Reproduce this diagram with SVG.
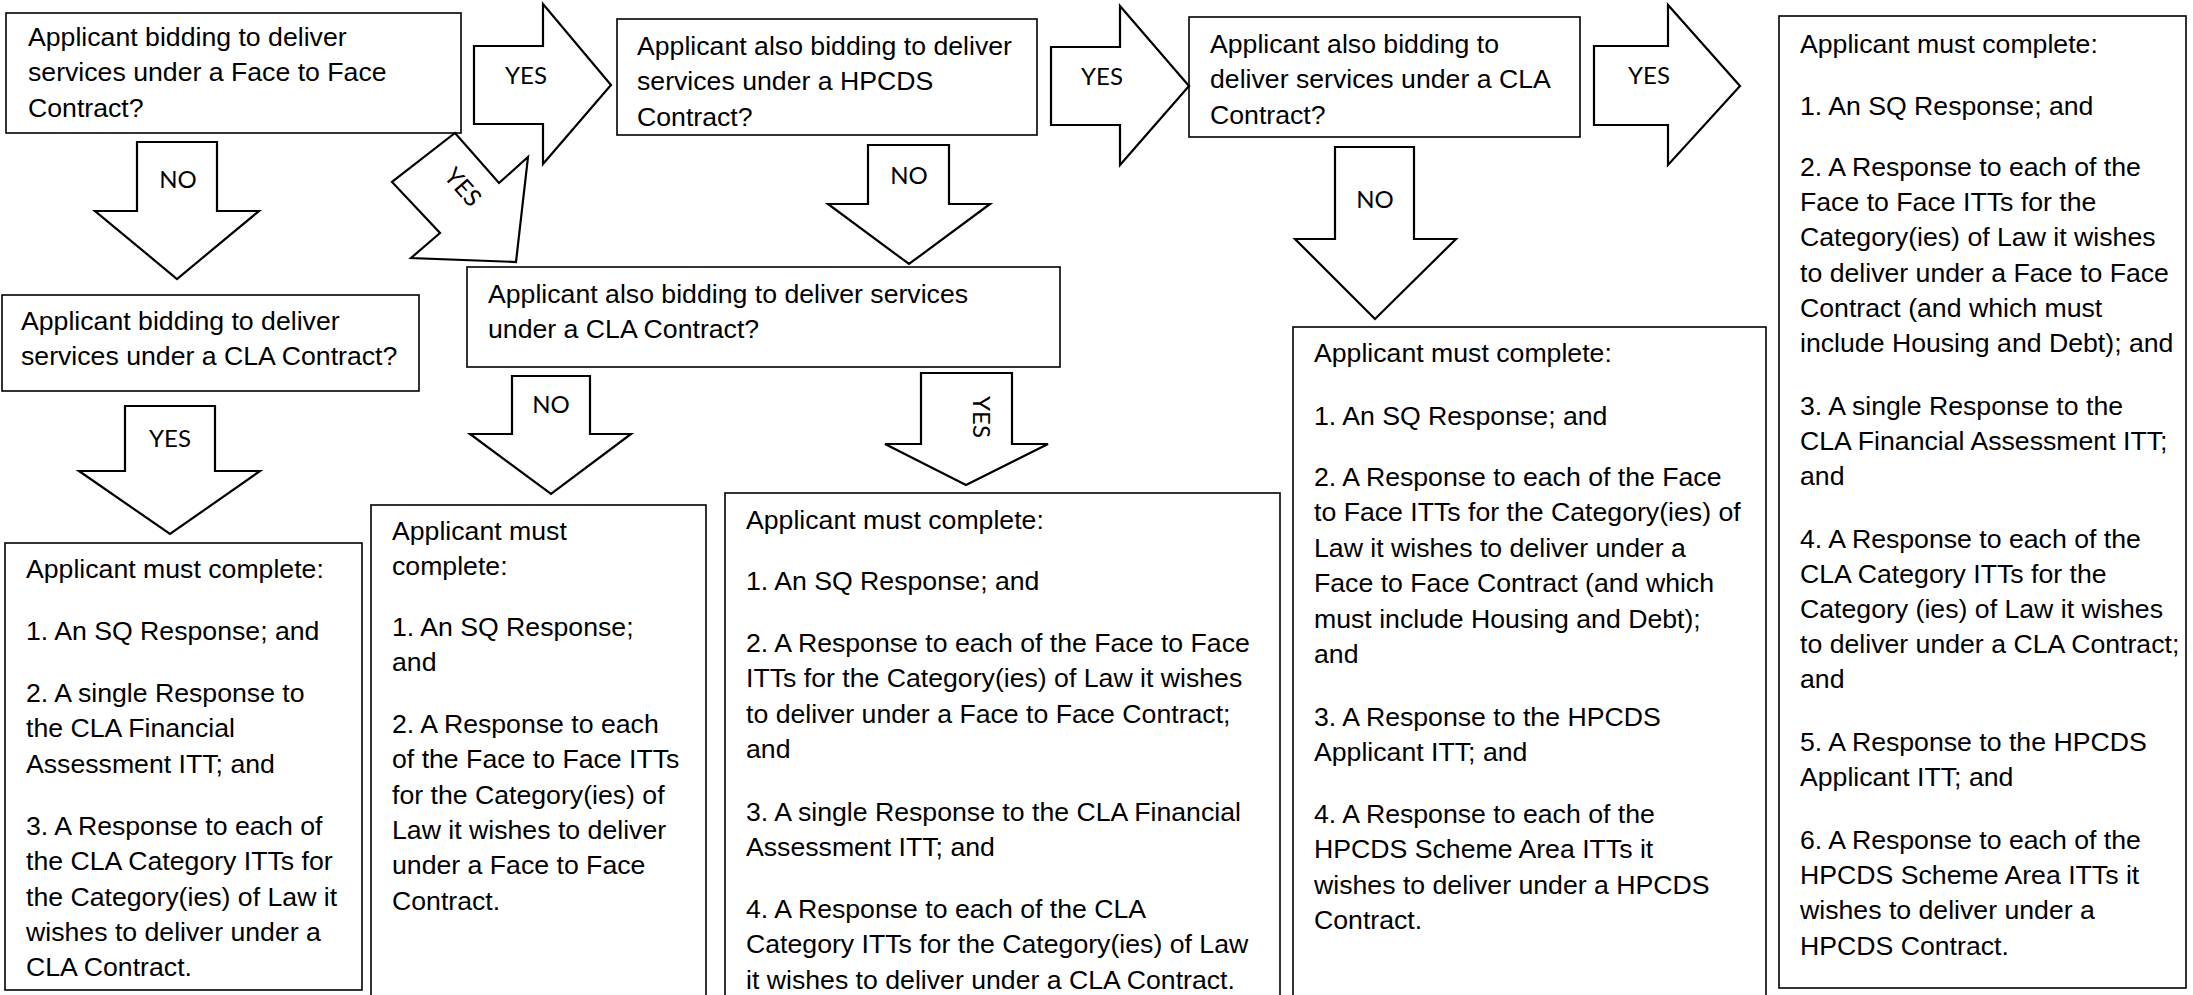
<svg xmlns="http://www.w3.org/2000/svg" width="2193" height="995" viewBox="0 0 2193 995">
<style>
.box{fill:#fff;stroke:#000;stroke-width:1.6}
.arr{fill:#fff;stroke:#000;stroke-width:2.2;stroke-linejoin:miter}
.t{font-family:"Liberation Sans",Arial,sans-serif;font-size:26.67px;fill:#000}
.lbl{font-family:Lato,"Open Sans",sans-serif;font-size:24px;fill:#000;text-anchor:middle}
</style>
<rect width="2193" height="995" fill="#fff"/>

<g id="q1">
<rect class="box" x="6" y="13" width="455" height="120"/>
<text class="t"><tspan x="28" y="46">Applicant bidding to deliver</tspan><tspan x="28" y="81.3">services under a Face to Face</tspan><tspan x="28" y="116.6">Contract?</tspan></text>
</g>

<g id="q2">
<rect class="box" x="617" y="19" width="420" height="116"/>
<text class="t"><tspan x="637" y="55">Applicant also bidding to deliver</tspan><tspan x="637" y="90.3">services under a HPCDS</tspan><tspan x="637" y="125.6">Contract?</tspan></text>
</g>

<g id="q3">
<rect class="box" x="1189" y="17" width="391" height="120"/>
<text class="t"><tspan x="1210" y="53">Applicant also bidding to</tspan><tspan x="1210" y="88.3">deliver services under a CLA</tspan><tspan x="1210" y="123.6">Contract?</tspan></text>
</g>

<g id="q4">
<rect class="box" x="467" y="267" width="593" height="100"/>
<text class="t"><tspan x="488" y="303">Applicant also bidding to deliver services</tspan><tspan x="488" y="338.3">under a CLA Contract?</tspan></text>
</g>

<g id="q5">
<rect class="box" x="2" y="295" width="417" height="96"/>
<text class="t"><tspan x="21" y="330">Applicant bidding to deliver</tspan><tspan x="21" y="365.3">services under a CLA Contract?</tspan></text>
</g>

<g id="r_cla_only">
<rect class="box" x="5" y="543" width="357" height="447"/>
<text class="t"><tspan x="26" y="578">Applicant must complete:</tspan><tspan x="26" y="640">1. An SQ Response; and</tspan><tspan x="26" y="702">2. A single Response to</tspan><tspan x="26" y="737.3">the CLA Financial</tspan><tspan x="26" y="772.6">Assessment ITT; and</tspan><tspan x="26" y="835">3. A Response to each of</tspan><tspan x="26" y="870.3">the CLA Category ITTs for</tspan><tspan x="26" y="905.6">the Category(ies) of Law it</tspan><tspan x="26" y="940.9">wishes to deliver under a</tspan><tspan x="26" y="976.2">CLA Contract.</tspan></text>
</g>

<g id="r_f2f_only">
<rect class="box" x="371" y="505" width="335" height="510"/>
<text class="t"><tspan x="392" y="539.5">Applicant must</tspan><tspan x="392" y="574.8">complete:</tspan><tspan x="392" y="636">1. An SQ Response;</tspan><tspan x="392" y="671.3">and</tspan><tspan x="392" y="733">2. A Response to each</tspan><tspan x="392" y="768.3">of the Face to Face ITTs</tspan><tspan x="392" y="803.6">for the Category(ies) of</tspan><tspan x="392" y="838.9">Law it wishes to deliver</tspan><tspan x="392" y="874.2">under a Face to Face</tspan><tspan x="392" y="909.5">Contract.</tspan></text>
</g>

<g id="r_f2f_cla">
<rect class="box" x="725" y="493" width="555" height="520"/>
<text class="t"><tspan x="746" y="528.5">Applicant must complete:</tspan><tspan x="746" y="590">1. An SQ Response; and</tspan><tspan x="746" y="652">2. A Response to each of the Face to Face</tspan><tspan x="746" y="687.3">ITTs for the Category(ies) of Law it wishes</tspan><tspan x="746" y="722.6">to deliver under a Face to Face Contract;</tspan><tspan x="746" y="757.9">and</tspan><tspan x="746" y="820.5">3. A single Response to the CLA Financial</tspan><tspan x="746" y="855.8">Assessment ITT; and</tspan><tspan x="746" y="918">4. A Response to each of the CLA</tspan><tspan x="746" y="953.3">Category ITTs for the Category(ies) of Law</tspan><tspan x="746" y="988.6">it wishes to deliver under a CLA Contract.</tspan></text>
</g>

<g id="r_f2f_hpcds">
<rect class="box" x="1293" y="327" width="473" height="690"/>
<text class="t"><tspan x="1314" y="362">Applicant must complete:</tspan><tspan x="1314" y="424.5">1. An SQ Response; and</tspan><tspan x="1314" y="486">2. A Response to each of the Face</tspan><tspan x="1314" y="521.4">to Face ITTs for the Category(ies) of</tspan><tspan x="1314" y="556.8">Law it wishes to deliver under a</tspan><tspan x="1314" y="592.2">Face to Face Contract (and which</tspan><tspan x="1314" y="627.6">must include Housing and Debt);</tspan><tspan x="1314" y="663">and</tspan><tspan x="1314" y="726">3. A Response to the HPCDS</tspan><tspan x="1314" y="761.4">Applicant ITT; and</tspan><tspan x="1314" y="823">4. A Response to each of the</tspan><tspan x="1314" y="858.4">HPCDS Scheme Area ITTs it</tspan><tspan x="1314" y="893.8">wishes to deliver under a HPCDS</tspan><tspan x="1314" y="929.2">Contract.</tspan></text>
</g>

<g id="r_all">
<rect class="box" x="1779" y="16" width="407" height="972"/>
<text class="t"><tspan x="1800" y="53">Applicant must complete:</tspan><tspan x="1800" y="114.5">1. An SQ Response; and</tspan><tspan x="1800" y="176">2. A Response to each of the</tspan><tspan x="1800" y="211.2">Face to Face ITTs for the</tspan><tspan x="1800" y="246.4">Category(ies) of Law it wishes</tspan><tspan x="1800" y="281.6">to deliver under a Face to Face</tspan><tspan x="1800" y="316.8">Contract (and which must</tspan><tspan x="1800" y="352">include Housing and Debt); and</tspan><tspan x="1800" y="414.5">3. A single Response to the</tspan><tspan x="1800" y="449.7">CLA Financial Assessment ITT;</tspan><tspan x="1800" y="484.9">and</tspan><tspan x="1800" y="547.5">4. A Response to each of the</tspan><tspan x="1800" y="582.7">CLA Category ITTs for the</tspan><tspan x="1800" y="617.9">Category (ies) of Law it wishes</tspan><tspan x="1800" y="653.1">to deliver under a CLA Contract;</tspan><tspan x="1800" y="688.3">and</tspan><tspan x="1800" y="751">5. A Response to the HPCDS</tspan><tspan x="1800" y="786.2">Applicant ITT; and</tspan><tspan x="1800" y="849">6. A Response to each of the</tspan><tspan x="1800" y="884.2">HPCDS Scheme Area ITTs it</tspan><tspan x="1800" y="919.4">wishes to deliver under a</tspan><tspan x="1800" y="954.6">HPCDS Contract.</tspan></text>
</g>

<g id="connectors">
<polygon class="arr" points="474,46 543,46 543,4 611,85 543,164 543,124 474,124"/>
<text class="lbl" x="526" y="84">YES</text>
<polygon class="arr" points="1051,47 1120,47 1120,6 1189,86 1120,165 1120,125 1051,125"/>
<text class="lbl" x="1102" y="85">YES</text>
<polygon class="arr" points="1594,46 1668,46 1668,5 1740,86 1668,165 1668,125 1594,125"/>
<text class="lbl" x="1649" y="84">YES</text>
<polygon class="arr" points="137,142 217,142 217,211 259,211 177,279 95,211 137,211"/>
<text class="lbl" x="178" y="188">NO</text>
<polygon class="arr" points="868,145 949,145 949,204 990,204 909,264 828,204 868,204"/>
<text class="lbl" x="909" y="184">NO</text>
<polygon class="arr" points="1335,147 1414,147 1414,239 1456,239 1375,319 1295,239 1335,239"/>
<text class="lbl" x="1375" y="208">NO</text>
<polygon class="arr" points="125,406 215,406 215,471 260,471 170,534 79,471 125,471"/>
<text class="lbl" x="170" y="447">YES</text>
<polygon class="arr" points="512,376 590,376 590,434 631,434 551,494 470,434 512,434"/>
<text class="lbl" x="551" y="413">NO</text>
<polygon class="arr" points="921,373 1012,373 1012,444 1048,444 966,485 885,444 921,444"/>
<text class="lbl" transform="translate(981,417) rotate(90)" x="0" y="8.5">YES</text>
<polygon class="arr" points="455,133 499,183 528,157 516,262 411,258 440,233 392,182"/>
<text class="lbl" transform="translate(463,187) rotate(49)" x="0" y="8.5">YES</text>
</g>
</svg>
